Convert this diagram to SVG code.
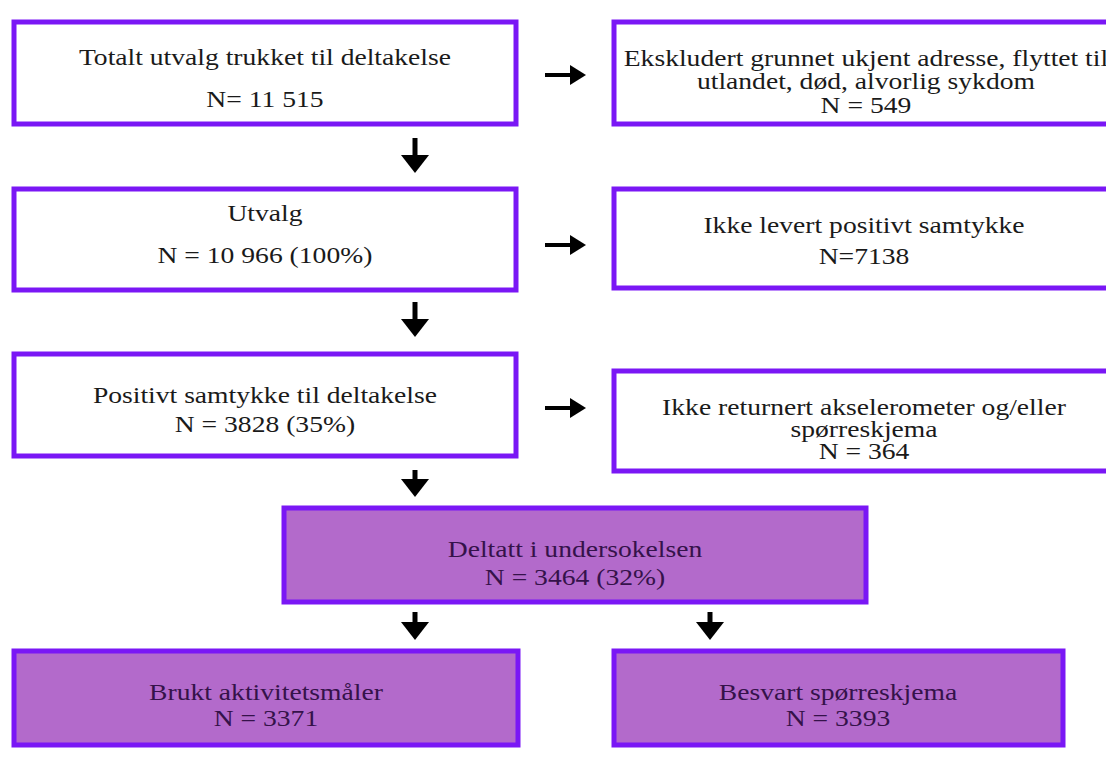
<svg xmlns="http://www.w3.org/2000/svg" width="1106" height="771" viewBox="0 0 1106 771">
<style>
.box{fill:#ffffff;stroke:#7a17f5;stroke-width:5}
.pbox{fill:#b36acb;stroke:#7a17f5;stroke-width:5}
text{font-family:'Liberation Serif','Times New Roman',serif;font-size:24px;text-anchor:middle;fill:#1a1a1a}
.pt{fill:#35124a}
.shaft{stroke:#000;stroke-width:5;fill:none}
.hs{stroke:#000;stroke-width:4;fill:none}
.head{fill:#000}
</style>
<rect width="1106" height="771" fill="#ffffff"/>
<g id="n1"><rect class="box" x="14" y="22" width="502" height="102"/>
<g transform="scale(1.15,1)"><text x="230.4" y="65">Totalt utvalg trukket til deltakelse</text>
<text x="230.4" y="107">N= 11 515</text></g></g>
<g id="n1r"><rect class="box" x="614" y="22" width="510" height="102"/>
<g transform="scale(1.15,1)"><text x="753" y="66">Ekskludert grunnet ukjent adresse, flyttet til</text>
<text x="753" y="89">utlandet, død, alvorlig sykdom</text>
<text x="753" y="113">N = 549</text></g></g>
<g id="n2"><rect class="box" x="14" y="189" width="502" height="101"/>
<g transform="scale(1.15,1)"><text x="230.4" y="221">Utvalg</text>
<text x="230.4" y="263">N = 10 966 (100%)</text></g></g>
<g id="n2r"><rect class="box" x="614" y="189" width="510" height="99"/>
<g transform="scale(1.15,1)"><text x="751.3" y="233">Ikke levert positivt samtykke</text>
<text x="751.3" y="264">N=7138</text></g></g>
<g id="n3"><rect class="box" x="14" y="354" width="502" height="102"/>
<g transform="scale(1.15,1)"><text x="230.4" y="403">Positivt samtykke til deltakelse</text>
<text x="230.4" y="432">N = 3828 (35%)</text></g></g>
<g id="n3r"><rect class="box" x="614" y="371" width="510" height="100"/>
<g transform="scale(1.15,1)"><text x="751.3" y="415">Ikke returnert akselerometer og/eller</text>
<text x="751.3" y="437">spørreskjema</text>
<text x="751.3" y="459">N = 364</text></g></g>
<g id="n4"><rect class="pbox" x="284" y="508" width="582" height="94"/>
<g transform="scale(1.15,1)"><text class="pt" x="500" y="557">Deltatt i undersokelsen</text>
<text class="pt" x="500" y="585">N = 3464 (32%)</text></g></g>
<g id="n5"><rect class="pbox" x="14" y="651" width="504" height="94"/>
<g transform="scale(1.15,1)"><text class="pt" x="231.3" y="700">Brukt aktivitetsmåler</text>
<text class="pt" x="231.3" y="726">N = 3371</text></g></g>
<g id="n6"><rect class="pbox" x="614" y="651" width="449" height="94"/>
<g transform="scale(1.15,1)"><text class="pt" x="728.7" y="700">Besvart spørreskjema</text>
<text class="pt" x="728.7" y="726">N = 3393</text></g></g>
<g id="connectors">
<path class="hs" d="M545 75H572"/><path class="head" d="M570 65L586 75L570 85Z"/>
<path class="hs" d="M545 245H572"/><path class="head" d="M570 235L586 245L570 255Z"/>
<path class="hs" d="M545 408H572"/><path class="head" d="M570 398L586 408L570 418Z"/>
<path class="shaft" d="M415 138V158"/><path class="head" d="M401 155L429 155L415 173Z"/>
<path class="shaft" d="M415 302V322"/><path class="head" d="M401 319L429 319L415 337Z"/>
<path class="shaft" d="M415 470V482"/><path class="head" d="M401 479L429 479L415 497Z"/>
<path class="shaft" d="M415 612V625"/><path class="head" d="M401 622L429 622L415 640Z"/>
<path class="shaft" d="M710 612V625"/><path class="head" d="M696 622L724 622L710 640Z"/>
</g>
</svg>
